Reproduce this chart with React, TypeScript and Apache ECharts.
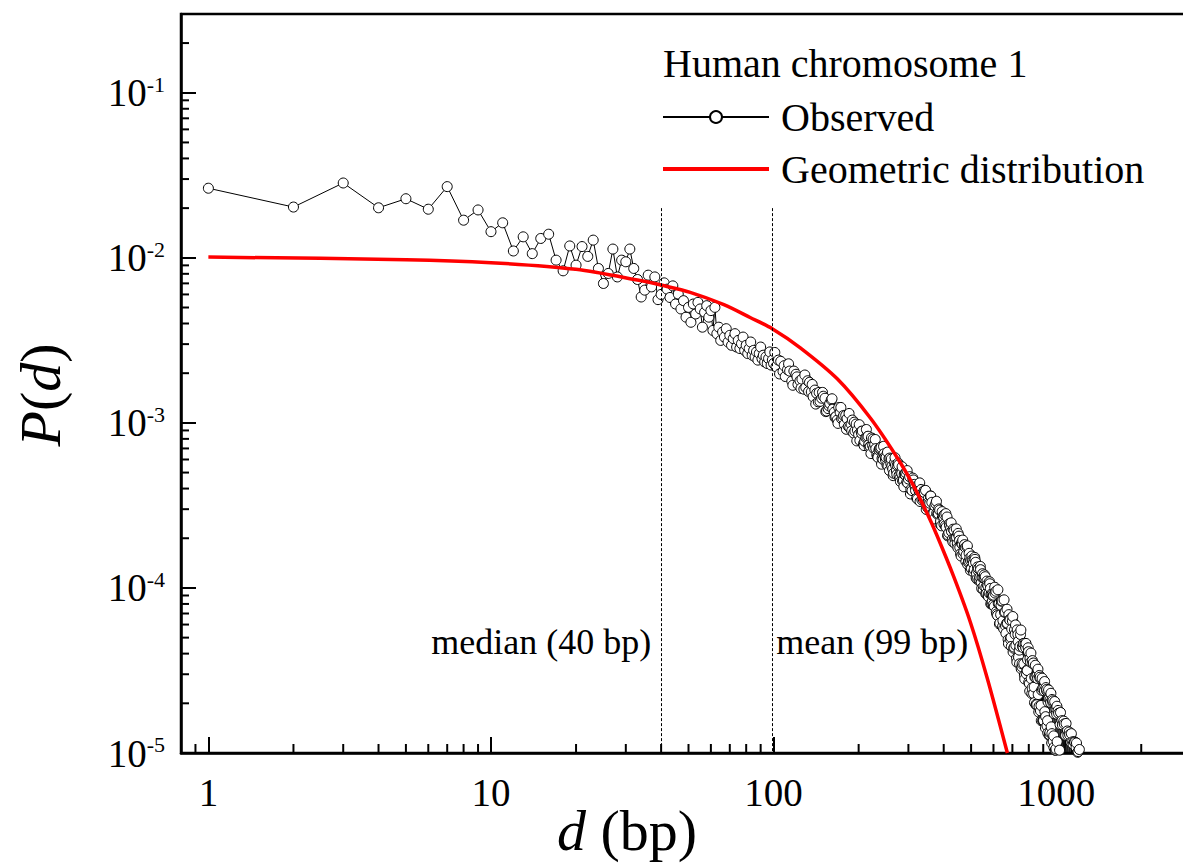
import React, { useEffect, useRef } from 'react';
import * as echarts from 'echarts';

const FONT = '"Liberation Serif", "Times New Roman", serif';

// Axis extents and tick positions
const xMin = 0.8;
const xMax = 3000;
const yMin = 1e-5;
const yMax = 0.3;
const xMinorTicks = [0.9, 2, 3, 4, 5, 6, 7, 8, 9, 20, 30, 40, 50, 60, 70, 80, 90, 200, 300, 400, 500, 600, 700, 800, 900, 2000];
const yMinorTicks = [
  2e-5, 3e-5, 4e-5, 5e-5, 6e-5, 7e-5, 8e-5, 9e-5,
  2e-4, 3e-4, 4e-4, 5e-4, 6e-4, 7e-4, 8e-4, 9e-4,
  2e-3, 3e-3, 4e-3, 5e-3, 6e-3, 7e-3, 8e-3, 9e-3,
  2e-2, 3e-2, 4e-2, 5e-2, 6e-2, 7e-2, 8e-2, 9e-2,
  0.2,
];

// Observed P(d)
const observedNear: [number, number][] = [
  [1, 0.0264], [2, 0.0203], [3, 0.0284], [4, 0.0201], [5, 0.0228], [6, 0.0197], [7, 0.027], [8, 0.0169], [9, 0.0195], [10, 0.0144],
  [11, 0.0163], [12, 0.011], [13, 0.0134], [14, 0.0106], [15, 0.0131], [16, 0.0139], [17, 0.00968], [18, 0.00834], [19, 0.0118], [20, 0.00903],
  [21, 0.0117], [22, 0.0102], [23, 0.0128], [24, 0.00862], [25, 0.00699], [26, 0.00804], [27, 0.0113], [28, 0.00766], [29, 0.00968], [30, 0.00946],
  [31, 0.0113], [32, 0.00862], [33, 0.00739], [34, 0.00579], [35, 0.00637], [36, 0.00785], [37, 0.00667], [38, 0.00766], [39, 0.00558], [40, 0.006],
  [41, 0.00705],
];
const observedMid: [number, number][] = [
  [42, 6.46e-3], [43, 5.75e-3], [44, 6.76e-3], [45, 5.25e-3], [46, 6.03e-3], [47, 4.9e-3], [48, 5.5e-3], [49, 4.37e-3], [50, 5.01e-3], [51, 4.07e-3],
  [52, 5.25e-3], [53, 4.57e-3], [54, 5.37e-3], [55, 4.9e-3], [56, 3.8e-3], [57, 4.68e-3], [58, 5.13e-3], [59, 4.37e-3], [60, 4.79e-3], [61, 3.63e-3],
  [62, 5.01e-3], [63, 3.47e-3], [64, 3.8e-3], [65, 3.16e-3], [66, 3.55e-3], [67, 3.31e-3], [68, 3.72e-3], [69, 3.09e-3], [70, 3.39e-3], [71, 2.95e-3],
  [72, 3.24e-3], [73, 3.47e-3], [74, 2.88e-3], [75, 3.16e-3], [76, 2.82e-3], [77, 3.02e-3], [78, 3.31e-3], [79, 2.75e-3], [80, 2.95e-3], [81, 2.63e-3],
  [82, 2.82e-3], [83, 3.09e-3], [84, 2.57e-3], [85, 2.75e-3], [86, 2.51e-3], [87, 2.69e-3], [88, 2.4e-3], [89, 2.63e-3], [90, 2.88e-3], [91, 2.45e-3],
  [92, 2.57e-3], [93, 2.34e-3], [94, 2.51e-3], [95, 2.29e-3], [96, 2.45e-3], [97, 2.69e-3], [98, 2.24e-3], [99, 2.4e-3], [100, 2.29e-3],
];
const observedFar: [number, number][] = [
  [104, 2.4e-3], [108, 2.05e-3], [112, 2.1e-3], [116, 1.79e-3], [120, 1.97e-3], [124, 1.8e-3], [128, 1.6e-3], [132, 1.8e-3], [136, 1.54e-3], [140, 1.58e-3],
  [144, 1.34e-3], [148, 1.41e-3], [152, 1.41e-3], [156, 1.22e-3], [160, 1.38e-3], [164, 1.16e-3], [168, 1.04e-3], [172, 1.16e-3], [176, 1.07e-3], [180, 1.11e-3],
  [184, 9.51e-4], [188, 9.84e-4], [192, 8.67e-4], [196, 9.84e-4], [200, 8.51e-4], [204, 8.85e-4], [208, 7.48e-4], [212, 8.15e-4], [216, 8.3e-4], [220, 7.18e-4],
  [224, 7.29e-4], [228, 7.41e-4], [232, 6.41e-4], [236, 6.84e-4], [240, 7.11e-4], [244, 6.01e-4], [248, 6.25e-4], [252, 5.55e-4], [256, 6.07e-4], [260, 5.65e-4],
  [264, 5.25e-4], [268, 5.74e-4], [272, 5.11e-4], [276, 5.71e-4], [280, 4.63e-4], [284, 4.94e-4], [288, 4.5e-4], [292, 4.92e-4], [296, 4.38e-4], [300, 4.57e-4],
  [306, 3.95e-4], [312, 4.51e-4], [318, 3.89e-4], [324, 4.05e-4], [330, 3.34e-4], [336, 3.72e-4], [342, 3.78e-4], [348, 3.27e-4], [354, 3.31e-4], [360, 3.6e-4],
  [366, 2.83e-4], [372, 3.14e-4], [378, 2.84e-4], [384, 3.01e-4], [390, 2.54e-4], [396, 2.69e-4], [402, 2.78e-4], [408, 2.33e-4], [414, 2.1e-4], [420, 2.38e-4],
  [426, 2.2e-4], [432, 2.27e-4], [438, 1.86e-4], [444, 2.02e-4], [450, 2.14e-4], [456, 1.76e-4], [462, 1.87e-4], [468, 1.61e-4], [474, 1.83e-4], [480, 1.58e-4],
  [486, 1.39e-4], [492, 1.62e-4], [498, 1.46e-4], [504, 1.48e-4], [510, 1.25e-4], [516, 1.49e-4], [522, 1.23e-4], [528, 1.28e-4], [534, 1.13e-4], [540, 1.29e-4],
  [546, 1.16e-4], [552, 9.8e-5], [558, 1.14e-4], [564, 1.01e-4], [570, 1.05e-4], [576, 8.85e-5], [582, 1.06e-4], [588, 9.14e-5], [594, 8.28e-5], [600, 9.04e-5],
];
const observedFarB: [number, number][] = [
  [102, 2.19e-3], [106, 2.36e-3], [110, 1.91e-3], [114, 2.06e-3], [118, 2.06e-3], [122, 1.71e-3], [126, 1.84e-3], [130, 1.64e-3], [134, 1.76e-3], [138, 1.44e-3],
  [142, 1.51e-3], [146, 1.35e-3], [150, 1.45e-3], [154, 1.18e-3], [158, 1.31e-3], [162, 1.21e-3], [166, 1.09e-3], [170, 1.24e-3], [174, 1.06e-3], [178, 9.79e-4],
  [182, 1.06e-3], [186, 9.35e-4], [190, 1.04e-3], [194, 8.93e-4], [198, 9.04e-4], [202, 7.83e-4], [206, 8.93e-4], [210, 7.73e-4], [214, 8.22e-4], [218, 7.11e-4],
  [222, 8.11e-4], [226, 7.03e-4], [230, 6.98e-4], [234, 6.18e-4], [238, 7.05e-4], [242, 6.1e-4], [246, 6.5e-4], [250, 6.17e-4], [254, 5.47e-4], [258, 6.12e-4],
  [262, 5.45e-4], [266, 4.95e-4], [270, 5.55e-4], [274, 5.52e-4], [278, 4.8e-4], [282, 5.01e-4], [286, 4.46e-4], [290, 4.88e-4], [294, 4.98e-4], [298, 4.33e-4],
  [303, 4.72e-4], [309, 3.89e-4], [315, 4.24e-4], [321, 3.5e-4], [327, 3.89e-4], [333, 3.95e-4], [339, 3.42e-4], [345, 3.9e-4], [351, 3.07e-4], [357, 3.26e-4],
  [363, 3.3e-4], [369, 2.84e-4], [375, 3.24e-4], [381, 2.79e-4], [387, 2.96e-4], [393, 2.38e-4], [399, 2.7e-4], [405, 2.38e-4], [411, 2.69e-4], [417, 2.16e-4],
  [423, 2.29e-4], [429, 1.97e-4], [435, 2.23e-4], [441, 2.0e-4], [447, 1.85e-4], [453, 2.06e-4], [459, 1.61e-4], [465, 1.84e-4], [471, 1.66e-4], [477, 1.76e-4],
  [483, 1.78e-4], [489, 1.43e-4], [495, 1.52e-4], [501, 1.31e-4], [507, 1.46e-4], [513, 1.29e-4], [519, 1.43e-4], [525, 1.13e-4], [531, 1.31e-4], [537, 1.16e-4],
  [543, 1.08e-4], [549, 1.22e-4], [555, 1.03e-4], [561, 1.17e-4], [567, 9.27e-5], [573, 1.03e-4], [579, 9.33e-5], [585, 9.93e-5], [591, 8.02e-5], [597, 8.95e-5],
];
const observedFarC: [number, number][] = [
  [101, 2.67e-3], [105, 1.98e-3], [109, 2.22e-3], [113, 2.28e-3], [117, 1.69e-3], [121, 1.9e-3], [125, 1.62e-3], [129, 1.95e-3], [133, 1.55e-3], [137, 1.71e-3],
  [141, 1.3e-3], [145, 1.53e-3], [149, 1.53e-3], [153, 1.17e-3], [157, 1.27e-3], [161, 1.4e-3], [165, 1.08e-3], [169, 9.93e-4], [173, 1.24e-3], [177, 1.11e-3],
  [181, 9.14e-4], [185, 1.14e-3], [189, 8.93e-4], [193, 1.01e-3], [197, 7.78e-4], [201, 9.75e-4], [205, 8.63e-4], [209, 7.29e-4], [213, 9.12e-4], [217, 7.36e-4],
  [221, 6.52e-4], [225, 7.98e-4], [229, 7.93e-4], [233, 6.25e-4], [237, 6.97e-4], [241, 5.62e-4], [245, 7.21e-4], [249, 5.96e-4], [253, 6.65e-4], [257, 5.15e-4],
  [261, 6.04e-4], [265, 4.79e-4], [269, 6.15e-4], [273, 4.86e-4], [277, 5.57e-4], [281, 4.42e-4], [285, 5.42e-4], [289, 4.1e-4], [293, 4.81e-4], [297, 5.14e-4],
  [305, 3.71e-4], [311, 4.63e-4], [317, 4.09e-4], [323, 3.46e-4], [329, 4.33e-4], [335, 3.41e-4], [341, 3.89e-4], [347, 2.99e-4], [353, 3.48e-4], [359, 3.61e-4],
  [365, 2.84e-4], [371, 2.62e-4], [377, 3.35e-4], [383, 2.82e-4], [389, 2.43e-4], [395, 2.9e-4], [401, 2.43e-4], [407, 2.82e-4], [413, 2.07e-4], [419, 2.45e-4],
  [425, 2.48e-4], [431, 1.9e-4], [437, 2.0e-4], [443, 2.28e-4], [449, 1.75e-4], [455, 1.94e-4], [461, 1.56e-4], [467, 1.95e-4], [473, 1.79e-4], [479, 1.45e-4],
  [485, 1.8e-4], [491, 1.45e-4], [497, 1.28e-4], [503, 1.56e-4], [509, 1.41e-4], [515, 1.53e-4], [521, 1.15e-4], [527, 1.34e-4], [533, 1.11e-4], [539, 1.35e-4],
  [545, 9.93e-5], [551, 1.16e-4], [557, 1.2e-4], [563, 9.25e-5], [569, 1.1e-4], [575, 9.1e-5], [581, 1.09e-4], [587, 8.0e-5], [593, 9.12e-5], [599, 7.91e-5],
];
const observedTail: [number, number][] = [
  [608, 9.31e-5], [616, 6.95e-5], [624, 8.04e-5], [632, 6.12e-5], [640, 8.32e-5], [648, 6.34e-5], [656, 7.13e-5], [664, 5.31e-5], [672, 6.11e-5], [680, 6.89e-5],
  [688, 4.89e-5], [696, 5.64e-5], [704, 4.09e-5], [712, 5.58e-5], [720, 4.49e-5], [728, 5.57e-5], [736, 3.81e-5], [744, 4.43e-5], [752, 3.24e-5], [760, 4.43e-5],
  [768, 3.47e-5], [776, 4.62e-5], [784, 3.02e-5], [792, 3.67e-5], [800, 2.69e-5], [808, 3.72e-5], [816, 2.82e-5], [824, 3.63e-5], [832, 2.29e-5], [840, 2.88e-5],
  [848, 1.96e-5], [856, 2.94e-5], [864, 2.26e-5], [872, 2.95e-5], [880, 1.8e-5], [888, 2.4e-5], [896, 1.57e-5], [904, 2.47e-5], [912, 1.78e-5], [920, 2.49e-5],
  [928, 1.46e-5], [936, 2.04e-5], [944, 1.28e-5], [952, 2.1e-5], [960, 1.44e-5], [968, 2.11e-5], [976, 1.18e-5], [984, 1.73e-5], [992, 1.04e-5], [1000, 1.83e-5],
  [1008, 1.17e-5], [1016, 1.81e-5], [1024, 9.64e-6], [1032, 1.49e-5], [1040, 8.49e-6], [1048, 1.57e-5], [1056, 9.64e-6], [1064, 1.56e-5], [1072, 7.92e-6], [1080, 1.28e-5],
  [1088, 6.98e-6], [1096, 1.36e-5], [1104, 7.94e-6], [1112, 1.34e-5], [1120, 6.55e-6], [1128, 1.16e-5], [1136, 5.65e-6], [1144, 1.17e-5], [1152, 6.43e-6], [1160, 1.17e-5],
  [1168, 5.45e-6], [1176, 1.08e-5], [1184, 4.61e-6], [1192, 1.01e-5], [1200, 5.27e-6], [1208, 1.05e-5],
];
const observedTailB: [number, number][] = [
  [604, 7.73e-5], [612, 9.55e-5], [620, 6.81e-5], [628, 8.05e-5], [636, 6.89e-5], [644, 8.34e-5], [652, 5.65e-5], [660, 7.14e-5], [668, 6.1e-5], [676, 4.86e-5],
  [684, 6.43e-5], [692, 5.01e-5], [700, 6.32e-5], [708, 4.31e-5], [716, 5.24e-5], [724, 3.75e-5], [732, 5.22e-5], [740, 4.2e-5], [748, 5.22e-5], [756, 3.33e-5],
  [764, 4.35e-5], [772, 2.96e-5], [780, 4.34e-5], [788, 3.18e-5], [796, 4.34e-5], [804, 2.63e-5], [812, 3.55e-5], [820, 2.29e-5], [828, 3.47e-5], [836, 2.51e-5],
  [844, 3.4e-5], [852, 1.98e-5], [860, 2.82e-5], [868, 1.77e-5], [876, 2.84e-5], [884, 1.94e-5], [892, 2.84e-5], [900, 1.58e-5], [908, 2.38e-5], [916, 1.42e-5],
  [924, 2.39e-5], [932, 1.57e-5], [940, 2.41e-5], [948, 1.29e-5], [956, 2.02e-5], [964, 1.15e-5], [972, 2.03e-5], [980, 1.27e-5], [988, 2.05e-5], [996, 1.04e-5],
  [1004, 1.72e-5], [1012, 9.4e-6], [1020, 1.74e-5], [1028, 1.04e-5], [1036, 1.76e-5], [1044, 8.57e-6], [1052, 1.48e-5], [1060, 7.73e-6], [1068, 1.5e-5], [1076, 8.57e-6],
  [1084, 1.51e-5], [1092, 7.05e-6], [1100, 1.28e-5], [1108, 6.37e-6], [1116, 1.29e-5], [1124, 7.08e-6], [1132, 1.31e-5], [1140, 5.83e-6], [1148, 1.13e-5], [1156, 5.3e-6],
  [1164, 1.16e-5], [1172, 5.75e-6], [1180, 1.15e-5], [1188, 4.55e-6], [1196, 1.02e-5], [1204, 4.85e-6],
];
const observedTailC: [number, number][] = [
  [606, 1.01e-4], [614, 7.18e-5], [622, 9.75e-5], [630, 6.05e-5], [638, 7.83e-5], [646, 5.83e-5], [654, 8.47e-5], [662, 5.89e-5], [670, 7.43e-5], [678, 4.59e-5],
  [686, 6.37e-5], [694, 4.42e-5], [702, 6.71e-5], [710, 4.38e-5], [718, 5.97e-5], [726, 3.55e-5], [734, 4.73e-5], [742, 3.47e-5], [750, 5.56e-5], [758, 3.47e-5],
  [766, 4.61e-5], [774, 2.81e-5], [782, 4.61e-5], [790, 3.16e-5], [798, 4.11e-5], [806, 2.37e-5], [814, 4.03e-5], [822, 2.48e-5], [830, 3.51e-5], [838, 2.02e-5],
  [846, 2.86e-5], [854, 1.96e-5], [862, 3.22e-5], [870, 1.92e-5], [878, 2.88e-5], [886, 1.57e-5], [894, 2.45e-5], [902, 1.57e-5], [910, 2.71e-5], [918, 1.66e-5],
  [926, 2.43e-5], [934, 1.32e-5], [942, 2.13e-5], [950, 1.33e-5], [958, 2.3e-5], [966, 1.31e-5], [974, 2.07e-5], [982, 1.08e-5], [990, 1.82e-5], [998, 1.06e-5],
  [1006, 1.92e-5],
];

// Geometric distribution curve
const geometric: [number, number][] = [
  [1, 0.0101], [5, 0.00975], [10, 0.00935], [20, 0.00852], [33.7, 0.00728], [39.9, 0.00684], [50.7, 0.00618], [66.7, 0.0052],
  [82.6, 0.00435], [99.2, 0.00371], [124, 0.00286], [168, 0.00185], [220, 0.00107], [274, 0.000615], [313, 0.000415],
  [349, 0.000284], [379, 0.000207], [434, 0.000117], [497, 6.2e-5], [570, 2.85e-5], [672, 1.0e-5],
];

const medianD = 40;
const meanD = 99;
const markerTop = 0.02;
const annotationY = 4.7e-5;

const observed = [
  ...observedNear, ...observedMid, ...observedFar, ...observedFarB, ...observedFarC,
  ...observedTail, ...observedTailB, ...observedTailC,
].sort((a, b) => a[0] - b[0]);

export default function App() {
  const ref = useRef<HTMLDivElement>(null);

  useEffect(() => {
    document.body.style.margin = '0';
    const chart = echarts.init(ref.current as HTMLDivElement, null, { renderer: 'svg' });

    const option: any = {
      animation: false,
      backgroundColor: '#ffffff',
      textStyle: { fontFamily: FONT, color: '#000' },
      title: {
        text: 'Human chromosome 1',
        left: 663,
        top: 43,
        padding: 0,
        textStyle: { fontFamily: FONT, fontSize: 40, fontWeight: 'normal', color: '#000' },
      },
      legend: {
        orient: 'vertical',
        left: 662,
        top: 97,
        padding: 0,
        itemGap: 12,
        itemWidth: 106,
        itemHeight: 15,
        selectedMode: false,
        textStyle: { fontFamily: FONT, fontSize: 40, color: '#000', padding: [0, 0, 0, 7] },
        data: [
          { name: 'Observed' },
          {
            name: 'Geometric distribution',
            icon: 'path://M0 0H106V4H0Z',
            itemStyle: { color: '#ff0000', borderWidth: 0 },
          },
        ],
      },
      grid: {
        left: 181,
        top: 14,
        width: 1010,
        height: 739,
        outerBoundsMode: 'none',
        containLabel: false,
        show: true,
        borderColor: '#000',
        borderWidth: 2.5,
        backgroundColor: 'transparent',
      },
      xAxis: {
        type: 'log',
        logBase: 10,
        min: xMin,
        max: xMax,
        axisLine: { show: true, lineStyle: { color: '#000', width: 2.5 } },
        axisTick: { show: true, inside: true, length: 16, lineStyle: { color: '#000', width: 2 } },
        axisLabel: {
          show: true,
          margin: 20,
          interval: 0,
          fontFamily: FONT,
          fontSize: 39,
          color: '#000',
          showMinLabel: false,
          showMaxLabel: false,
          formatter: (v: number) => String(Math.round(v)),
        },
        splitLine: { show: false },
      },
      yAxis: {
        type: 'log',
        logBase: 10,
        min: yMin,
        max: yMax,
        axisLine: { show: true, lineStyle: { color: '#000', width: 2.5 } },
        axisTick: { show: true, inside: true, length: 15, lineStyle: { color: '#000', width: 2 } },
        axisLabel: {
          show: true,
          margin: 16,
          interval: 0,
          color: '#000',
          fontFamily: FONT,
          showMaxLabel: false,
          formatter: (v: number) => {
            const e = Math.round(Math.log10(v));
            return `{b|10}{s|${e}}`;
          },
          rich: {
            b: { fontSize: 39, fontFamily: FONT, color: '#000' },
            s: { fontSize: 22, fontFamily: FONT, color: '#000', verticalAlign: 'top' },
          },
        },
        splitLine: { show: false },
      },
      graphic: [
        {
          type: 'text',
          x: 40,
          y: 395,
          rotation: Math.PI / 2,
          style: {
            text: '{i|P}({i|d})',
            rich: { i: { fontStyle: 'italic', fontSize: 58, fontFamily: FONT, fill: '#000' } },
            fontSize: 58,
            fontFamily: FONT,
            fill: '#000',
            align: 'center',
            verticalAlign: 'middle',
          },
        },
        {
          type: 'text',
          x: 627,
          y: 830,
          style: {
            text: '{i|d} (bp)',
            rich: { i: { fontStyle: 'italic', fontSize: 58, fontFamily: FONT, fill: '#000' } },
            fontSize: 58,
            fontFamily: FONT,
            fill: '#000',
            align: 'center',
            verticalAlign: 'middle',
          },
        },
      ],
      series: [
        {
          name: 'Observed',
          type: 'line',
          data: observed,
          symbol: 'circle',
          symbolSize: 10,
          showAllSymbol: true,
          clip: true,
          itemStyle: { color: '#ffffff', borderColor: '#000', borderWidth: 1 },
          lineStyle: { color: '#000', width: 1 },
          z: 2,
          markLine: {
            silent: true,
            symbol: ['none', 'none'],
            label: { show: false },
            lineStyle: { color: '#000', width: 1, type: [3, 2] },
            data: [
              [{ coord: [medianD, markerTop] }, { coord: [medianD, yMin] }],
              [{ coord: [meanD, markerTop] }, { coord: [meanD, yMin] }],
            ],
          },
          markPoint: {
            silent: true,
            symbol: 'circle',
            symbolSize: 0,
            label: { show: true, fontFamily: FONT, fontSize: 36, color: '#000' },
            data: [
              { coord: [medianD, annotationY], label: { formatter: 'median (40 bp)', position: 'left', distance: 10 } },
              { coord: [meanD, annotationY], label: { formatter: 'mean (99 bp)', position: 'right', distance: 4 } },
            ],
          },
        },
        {
          name: 'Geometric distribution',
          type: 'line',
          data: geometric,
          smooth: 0.3,
          symbol: 'none',
          clip: true,
          itemStyle: { color: '#ff0000' },
          lineStyle: { color: '#ff0000', width: 3.5 },
          z: 3,
        },
        {
          name: 'xMinor',
          type: 'custom',
          coordinateSystem: 'cartesian2d',
          silent: true,
          clip: false,
          z: 5,
          data: xMinorTicks.map((v) => [v, yMin]),
          renderItem: (_p: any, api: any) => {
            const pt = api.coord([api.value(0), api.value(1)]);
            return {
              type: 'line',
              shape: { x1: pt[0], y1: pt[1], x2: pt[0], y2: pt[1] - 9 },
              style: { stroke: '#000', lineWidth: 2 },
            };
          },
        },
        {
          name: 'yMinor',
          type: 'custom',
          coordinateSystem: 'cartesian2d',
          silent: true,
          clip: false,
          z: 5,
          data: yMinorTicks.map((v) => [xMin, v]),
          renderItem: (_p: any, api: any) => {
            const pt = api.coord([api.value(0), api.value(1)]);
            return {
              type: 'line',
              shape: { x1: pt[0], y1: pt[1], x2: pt[0] + 8, y2: pt[1] },
              style: { stroke: '#000', lineWidth: 2 },
            };
          },
        },
      ],
    };

    chart.setOption(option);
    return () => chart.dispose();
  }, []);

  return <div ref={ref} style={{ width: 1183, height: 864 }} />;
}
